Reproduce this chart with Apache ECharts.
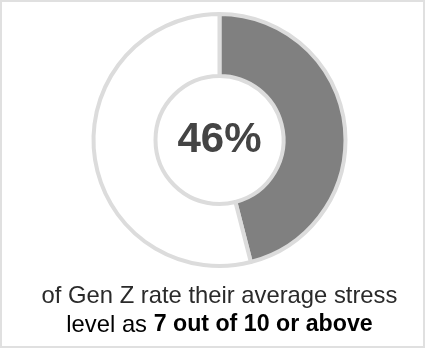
<!DOCTYPE html>
<html>
<head>
<meta charset="utf-8">
<script src="https://cdn.jsdelivr.net/npm/echarts@6/dist/echarts.min.js"></script>
<style>
html,body{margin:0;padding:0;background:#fff;}
#c{width:426px;height:349px;}
</style>
</head>
<body>
<div id="c"></div>
<script>
const categories = ['Rate stress 7/10 or above', 'Others'];
const values = [46, 54];
const captionLine1 = 'of Gen Z rate their average stress';
const captionLine2Plain = 'level as ';
const captionLine2Bold = '7 out of 10 or above';

const chart = echarts.init(document.getElementById('c'), null, {renderer: 'canvas'});
const fontFam = '"Liberation Sans", Arial, sans-serif';
chart.setOption({
  animation: false,
  graphic: [
    {type: 'rect', shape: {x: 1, y: 1, width: 423, height: 346}, style: {fill: 'none', stroke: '#e0e0e0', lineWidth: 2}, silent: true},
    {type: 'text', x: 219.5, y: 284, style: {text: captionLine1, align: 'center', verticalAlign: 'top', font: 'normal 23.8px ' + fontFam, fill: '#2a2a2a'}},
    {type: 'text', x: 219.5, y: 313, style: {
      text: '{n|' + captionLine2Plain + '}{b|' + captionLine2Bold + '}',
      align: 'center', verticalAlign: 'top',
      rich: {
        n: {fontFamily: fontFam, fontWeight: 'normal', fontSize: 23.8, color: '#2a2a2a'},
        b: {fontFamily: fontFam, fontWeight: 'bold', fontSize: 23.2, color: '#111'}
      }
    }}
  ],
  series: [{
    type: 'pie',
    center: [219.5, 140],
    radius: [64, 126],
    startAngle: 90,
    clockwise: true,
    silent: true,
    label: {show: false},
    labelLine: {show: false},
    itemStyle: {borderColor: '#dcdcdc', borderWidth: 4},
    data: categories.map((name, i) => ({
      name: name,
      value: values[i],
      itemStyle: {color: i === 0 ? '#808080' : '#ffffff'},
      label: i === 0 ? {show: true, position: 'center', formatter: '{c}%', fontFamily: fontFam, fontWeight: 'bold', fontSize: 42, color: '#444444'} : {show: false}
    }))
  }]
});
</script>
</body>
</html>
